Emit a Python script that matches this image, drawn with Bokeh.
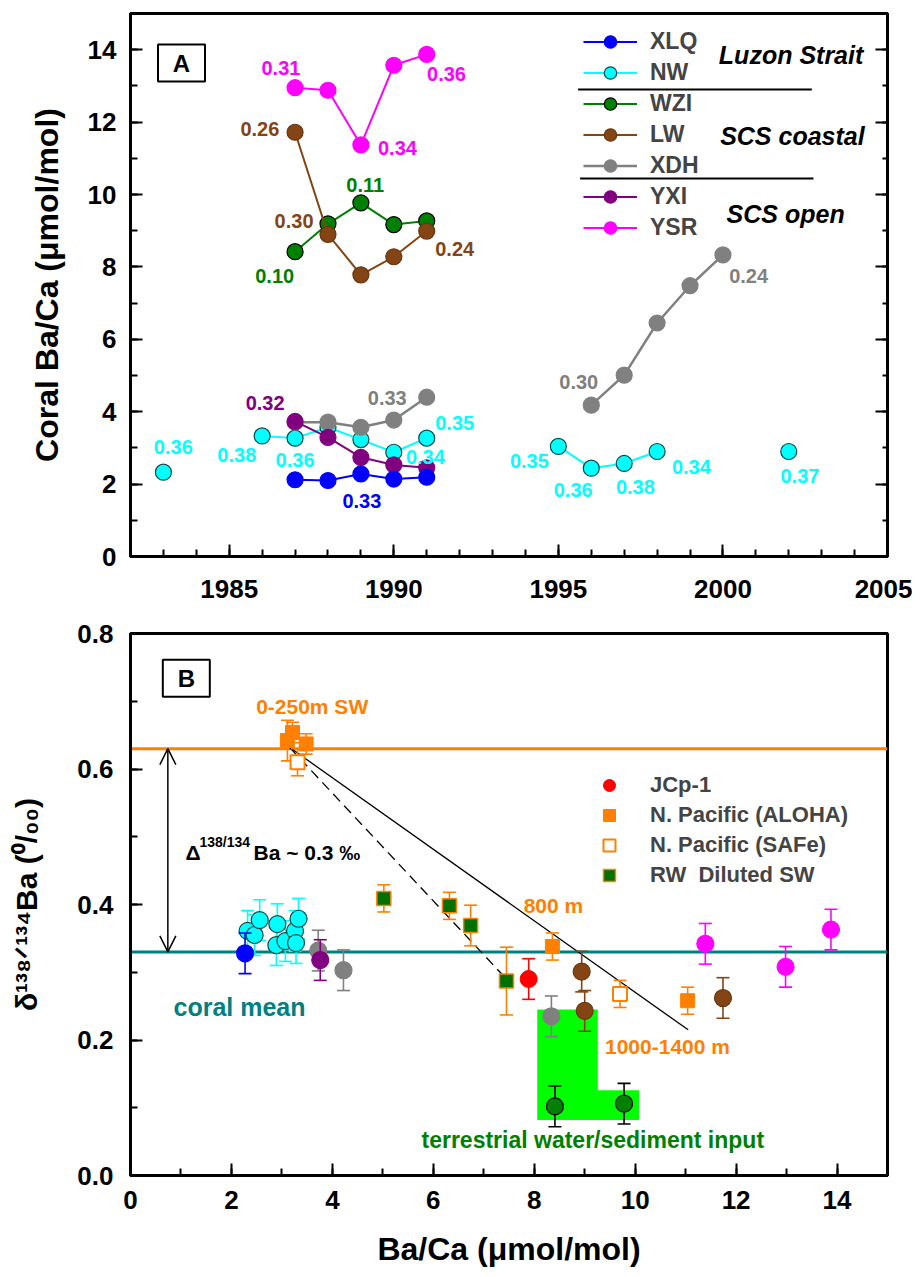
import numpy as np
from bokeh.plotting import figure
from bokeh.layouts import column
from bokeh.models import (ColumnDataSource, Legend, LegendItem, Span, Label, Arrow, OpenHead,
                          LinearAxis, SingleIntervalTicker, PrintfTickFormatter, Range1d)
from bokeh.core.properties import value
from bokeh.embed import file_html
from bokeh.resources import INLINE

FONT = "Liberation Sans"

# ---------------- Panel A data: coral Ba/Ca time series ----------------
xlq_years = [1987, 1988, 1989, 1990, 1991]
xlq_baca = [2.12, 2.10, 2.28, 2.14, 2.19]
nw_years = [1983, 1986, 1987, 1988, 1989, 1990, 1991, 1995, 1996, 1997, 1998, 2002]
nw_baca = [2.33, 3.33, 3.27, 3.57, 3.23, 2.88, 3.27, 3.04, 2.44, 2.57, 2.90, 2.90]
wzi_years = [1987, 1988, 1989, 1990, 1991]
wzi_baca = [8.42, 9.19, 9.77, 9.17, 9.27]
lw_years = [1987, 1988, 1989, 1990, 1991]
lw_baca = [11.72, 8.90, 7.78, 8.28, 8.99]
xdh_years = [1987, 1988, 1989, 1990, 1991, 1996, 1997, 1998, 1999, 2000]
xdh_baca = [3.71, 3.71, 3.57, 3.77, 4.40, 4.18, 5.01, 6.45, 7.48, 8.33]
yxi_years = [1987, 1988, 1989, 1990, 1991]
yxi_baca = [3.73, 3.29, 2.74, 2.53, 2.45]
ysr_years = [1987, 1988, 1989, 1990, 1991]
ysr_baca = [12.95, 12.88, 11.37, 13.57, 13.87]

# d138/134Ba annotations in panel A
ann_text = ["0.31", "0.36", "0.34", "0.26", "0.11", "0.30", "0.10", "0.24", "0.24",
            "0.36", "0.38", "0.36", "0.32", "0.33", "0.35", "0.34", "0.33",
            "0.30", "0.35", "0.36", "0.38", "0.34", "0.37"]
ann_site = ["YSR", "YSR", "YSR", "LW", "WZI", "LW", "WZI", "LW", "XDH",
            "NW", "NW", "NW", "YXI", "XDH", "NW", "NW", "XLQ",
            "XDH", "NW", "NW", "NW", "NW", "NW"]

# ---------------- Panel B data: d138/134Ba vs Ba/Ca ----------------
b_xlq_x = [2.27]; b_xlq_y = [0.328]; b_xlq_e = [0.03]
b_nw_x = [2.32, 2.46, 2.56, 2.91, 2.89, 3.07, 3.26, 3.28, 3.33]
b_nw_y = [0.361, 0.355, 0.377, 0.371, 0.340, 0.346, 0.361, 0.343, 0.379]
b_nw_e = [0.03, 0.03, 0.03, 0.03, 0.03, 0.03, 0.03, 0.03, 0.03]
b_xdh_x = [3.72, 4.22, 8.34]; b_xdh_y = [0.332, 0.303, 0.235]; b_xdh_e = [0.03, 0.03, 0.03]
b_yxi_x = [3.76]; b_yxi_y = [0.318]; b_yxi_e = [0.03]
b_lw_x = [8.94, 9.00, 11.74]; b_lw_y = [0.301, 0.243, 0.262]; b_lw_e = [0.03, 0.03, 0.03]
b_wzi_x = [8.41, 9.78]; b_wzi_y = [0.102, 0.106]; b_wzi_e = [0.03, 0.03]
b_ysr_x = [11.39, 12.98, 13.88]; b_ysr_y = [0.342, 0.308, 0.363]; b_ysr_e = [0.03, 0.03, 0.03]
jcp_x = [7.89]; jcp_y = [0.290]; jcp_e = [0.03]
aloha_x = [3.11, 3.21, 3.48, 8.36, 11.04]
aloha_y = [0.642, 0.654, 0.637, 0.338, 0.258]
aloha_e = [0.03, 0.015, 0.015, 0.02, 0.02]
safe_x = [3.31, 9.70]; safe_y = [0.610, 0.268]; safe_e = [0.02, 0.02]
rw_x = [5.02, 6.32, 6.74, 7.45]; rw_y = [0.409, 0.398, 0.369, 0.287]; rw_e = [0.02, 0.02, 0.03, 0.05]
sw_surface = 0.63
coral_mean = 0.33
mix_solid_x = [3.15, 11.05]; mix_solid_y = [0.632, 0.215]
mix_dash_x = [3.15, 7.45]; mix_dash_y = [0.632, 0.290]
terr_x = [8.06, 9.26, 9.26, 10.08, 10.08, 8.06]
terr_y = [0.245, 0.245, 0.126, 0.126, 0.082, 0.082]

C = dict(XLQ="#0000FF", NW="#00FFFF", WZI="#008000", LW="#844414", XDH="#808080",
         YXI="#800080", YSR="#FF00FF")
EDGE = dict(XLQ="#0000FF", NW="#0A4A4A", WZI="#000000", LW="#6A350F", XDH="#808080",
            YXI="#800080", YSR="#FF00FF")
ORANGE = "#FF8000"; TEAL = "#008080"


def gapped(xs, ys, max_gap=1):
    ox, oy = [], []
    for i, (x, y) in enumerate(zip(xs, ys)):
        if i > 0 and x - xs[i - 1] > max_gap:
            ox.append(np.nan); oy.append(np.nan)
        ox.append(x); oy.append(y)
    return ox, oy


def style_axis(ax, size="26px", label_size="32px"):
    ax.axis_line_width = 3
    ax.axis_line_color = "black"
    ax.major_tick_in = 12; ax.major_tick_out = 0
    ax.minor_tick_in = 7; ax.minor_tick_out = 0
    ax.major_tick_line_width = 2; ax.minor_tick_line_width = 2
    ax.major_label_text_font = FONT
    ax.major_label_text_font_style = "bold"
    ax.major_label_text_font_size = size
    ax.major_label_text_color = "black"
    ax.axis_label_text_font = FONT
    ax.axis_label_text_font_style = "bold"
    ax.axis_label_text_font_size = label_size
    ax.axis_label_text_color = "black"


# ================= Panel A =================
pa = figure(width=912, height=610, x_range=Range1d(1982, 2005), y_range=Range1d(0, 15),
            output_backend="svg", toolbar_location=None,
            min_border_left=130, min_border_right=25, min_border_top=13, min_border_bottom=54)
pa.grid.visible = False
pa.outline_line_color = "black"; pa.outline_line_width = 3
pa.xaxis.ticker = SingleIntervalTicker(interval=5, num_minor_ticks=5)
pa.yaxis.ticker = SingleIntervalTicker(interval=2, num_minor_ticks=2)
style_axis(pa.xaxis[0]); style_axis(pa.yaxis[0])
pa.xaxis.major_label_standoff = 23
pa.yaxis.major_label_standoff = 14
pa.yaxis.axis_label = "Coral Ba/Ca (\u03bcmol/mol)"
pa.yaxis.axis_label_standoff = 20
ra = LinearAxis(ticker=SingleIntervalTicker(interval=2, num_minor_ticks=2))
style_axis(ra)
ra.minor_tick_in = 5
ra.major_label_text_color = None
ra.major_label_text_font_size = "1px"
ra.major_label_standoff = 0
pa.add_layout(ra, "right")

series = {
    "XLQ": (xlq_years, xlq_baca), "NW": (nw_years, nw_baca), "WZI": (wzi_years, wzi_baca),
    "LW": (lw_years, lw_baca), "XDH": (xdh_years, xdh_baca), "YXI": (yxi_years, yxi_baca),
    "YSR": (ysr_years, ysr_baca),
}
rend = {}
for name in ["NW", "WZI", "LW", "XDH", "YXI", "XLQ", "YSR"]:
    yrs, vals = series[name]
    gx, gy = gapped(yrs, vals)
    lr = pa.line(gx, gy, line_color=C[name], line_width=2.5 if name == "XDH" else 2)
    sr = pa.scatter(yrs, vals, marker="circle", size=16, fill_color=C[name],
                    line_color=EDGE[name], line_width=1.2)
    rend[name] = (lr, sr)

# per-site annotation positions (data coords of label centre)
ann_x = [1986.57, 1991.60, 1990.11, 1985.93, 1989.13, 1986.97, 1986.38, 1991.85, 2000.78,
         1983.30, 1985.23, 1987.00, 1986.09, 1989.80, 1991.85, 1990.96, 1989.03,
         1995.62, 1994.12, 1995.45, 1997.34, 1999.04, 2002.34]
ann_y = [13.49, 13.32, 11.29, 11.80, 10.26, 9.27, 7.74, 8.50, 7.75,
         3.02, 2.81, 2.67, 4.23, 4.39, 3.68, 2.74, 1.54,
         4.81, 2.65, 1.84, 1.91, 2.48, 2.21]
ann_src = ColumnDataSource(dict(x=ann_x, y=ann_y, t=ann_text, c=[C[s] for s in ann_site]))
pa.text(x="x", y="y", text="t", text_color="c", source=ann_src, text_font=value(FONT),
        text_font_style="bold", text_font_size="20px", text_align="center",
        text_baseline="middle")

legend_a = Legend(items=[LegendItem(label=n, renderers=list(rend[n]))
                         for n in ["XLQ", "NW", "WZI", "LW", "XDH", "YXI", "YSR"]],
                  location=(453, 313), glyph_width=54, glyph_height=31, spacing=0,
                  padding=0, margin=0, label_standoff=13, border_line_color=None,
                  background_fill_alpha=0, label_text_font=FONT,
                  label_text_font_style="bold", label_text_font_size="23px")
pa.add_layout(legend_a)
pa.segment(x0=[1995.60, 1995.66], y0=[12.90, 10.44], x1=[2002.70, 2002.75], y1=[12.90, 10.44],
           line_color="black", line_width=2)
pa.text(x=[2002.07, 2002.11, 2002.01], y=[13.84, 11.61, 9.45],
        text=["Luzon Strait", "SCS coastal", "SCS  open"], text_font=value(FONT),
        text_font_style="bold italic", text_font_size="25px", text_align="center",
        text_baseline="middle", text_color="black")
pa.rect(x=[1983.55], y=[13.63], width=47, height=37, width_units="screen",
        height_units="screen", fill_color="white", line_color="black", line_width=2)
pa.text(x=[1983.55], y=[13.63], text=["A"], text_font=value(FONT), text_font_style="bold",
        text_font_size="24px", text_align="center", text_baseline="middle")

# ================= Panel B =================
pb = figure(width=912, height=667, x_range=Range1d(0, 15), y_range=Range1d(0, 0.8),
            output_backend="svg", toolbar_location=None,
            min_border_left=130, min_border_right=25, min_border_top=23, min_border_bottom=102)
pb.grid.visible = False
pb.outline_line_color = "black"; pb.outline_line_width = 3
pb.xaxis.ticker = SingleIntervalTicker(interval=2, num_minor_ticks=2)
pb.yaxis.ticker = SingleIntervalTicker(interval=0.2, num_minor_ticks=2)
pb.yaxis.formatter = PrintfTickFormatter(format="%.1f")
style_axis(pb.xaxis[0]); style_axis(pb.yaxis[0], label_size="30px")
pb.xaxis.major_label_standoff = 15
pb.yaxis.major_label_standoff = 17
pb.xaxis.axis_label = "Ba/Ca (\u03bcmol/mol)"
pb.xaxis.axis_label_standoff = 19
pb.yaxis.axis_label = "\u03b4\u00b9\u00b3\u2078\u141f\u00b9\u00b3\u2074Ba (\u2070/\u2080\u2080)"
pb.yaxis.axis_label_standoff = 31

pb.add_layout(Span(location=sw_surface, dimension="width", line_color=ORANGE, line_width=3,
                   level="underlay"))
pb.add_layout(Span(location=coral_mean, dimension="width", line_color=TEAL, line_width=3,
                   level="underlay"))
pb.patch(terr_x, terr_y, fill_color="#00FF00", line_color=None)
pb.line(mix_solid_x, mix_solid_y, line_color="black", line_width=1.3)
pb.line(mix_dash_x, mix_dash_y, line_color="black", line_width=1.3, line_dash="10 6")


def errbars(xs, ys, es, color):
    lo = [y - e for y, e in zip(ys, es)]
    hi = [y + e for y, e in zip(ys, es)]
    pb.segment(x0=xs, y0=lo, x1=xs, y1=hi, line_color=color, line_width=1.6)
    pb.scatter(xs, lo, marker="dash", size=13, line_color=color, line_width=1.6)
    pb.scatter(xs, hi, marker="dash", size=13, line_color=color, line_width=1.6)


groups_b = [("NW", b_nw_x, b_nw_y, b_nw_e), ("XLQ", b_xlq_x, b_xlq_y, b_xlq_e),
            ("XDH", b_xdh_x, b_xdh_y, b_xdh_e), ("YXI", b_yxi_x, b_yxi_y, b_yxi_e),
            ("LW", b_lw_x, b_lw_y, b_lw_e), ("WZI", b_wzi_x, b_wzi_y, b_wzi_e),
            ("YSR", b_ysr_x, b_ysr_y, b_ysr_e)]
for name, xs, ys, es in groups_b:
    errbars(xs, ys, es, "black" if name == "WZI" else C[name])
    pb.scatter(xs, ys, marker="circle", size=17, fill_color=C[name], line_color=EDGE[name],
               line_width=1.2)

errbars(jcp_x, jcp_y, jcp_e, "#FF0000")
r_jcp = pb.scatter(jcp_x, jcp_y, marker="circle", size=17, fill_color="#FF0000",
                   line_color="#FF0000")
errbars(aloha_x, aloha_y, aloha_e, ORANGE)
r_aloha = pb.scatter(aloha_x, aloha_y, marker="square", size=14, fill_color=ORANGE,
                     line_color=ORANGE)
errbars(safe_x, safe_y, safe_e, ORANGE)
r_safe = pb.scatter(safe_x, safe_y, marker="square", size=14, fill_color="white",
                    line_color=ORANGE, line_width=2)
errbars(rw_x, rw_y, rw_e, ORANGE)
r_rw = pb.scatter(rw_x, rw_y, marker="square", size=14, fill_color="#007000",
                  line_color=ORANGE, line_width=1.5)

legend_b = Legend(items=[LegendItem(label="JCp-1", renderers=[r_jcp]),
                         LegendItem(label="N. Pacific (ALOHA)", renderers=[r_aloha]),
                         LegendItem(label="N. Pacific (SAFe)", renderers=[r_safe]),
                         LegendItem(label="RW  Diluted SW", renderers=[r_rw])],
                  location=(464, 285), glyph_width=30, glyph_height=30, spacing=0,
                  padding=0, margin=0, label_standoff=26, border_line_color=None,
                  background_fill_alpha=0, label_text_font=FONT,
                  label_text_font_style="bold", label_text_font_size="22px")
pb.add_layout(legend_b)

pb.add_layout(Arrow(x_start=0.74, y_start=sw_surface, x_end=0.74, y_end=coral_mean,
                    line_width=1.5, start=OpenHead(size=16, line_width=1.5),
                    end=OpenHead(size=16, line_width=1.5)))

txt_b = ColumnDataSource(dict(
    x=[3.60, 8.38, 10.64, 2.16, 9.16],
    y=[0.692, 0.398, 0.190, 0.248, 0.052],
    t=["0-250m SW", "800 m", "1000-1400 m", "coral mean", "terrestrial water/sediment input"],
    c=[ORANGE, ORANGE, ORANGE, TEAL, "#008000"],
    s=["21px", "21px", "21px", "25px", "23px"]))
pb.text(x="x", y="y", text="t", text_color="c", text_font_size="s", source=txt_b,
        text_font=value(FONT), text_font_style="bold", text_align="center",
        text_baseline="middle")

for txt, yy, xo, fs in [("\u0394", 0.477, 0, "21px"), ("138/134", 0.492, 14, "14px"),
                         ("Ba ~ 0.3 \u2030", 0.477, 68, "21px")]:
    pb.add_layout(Label(x=1.09, y=yy, x_offset=xo, text=txt, text_font=FONT,
                        text_font_style="bold", text_font_size=fs, text_align="left",
                        text_baseline="middle", text_color="black"))

pb.rect(x=[1.106], y=[0.734], width=47, height=37, width_units="screen",
        height_units="screen", fill_color="white", line_color="black", line_width=2)
pb.text(x=[1.106], y=[0.734], text=["B"], text_font=value(FONT), text_font_style="bold",
        text_font_size="24px", text_align="center", text_baseline="middle")

layout = column(pa, pb, spacing=0)
open("out.html", "w").write(file_html(layout, INLINE))
